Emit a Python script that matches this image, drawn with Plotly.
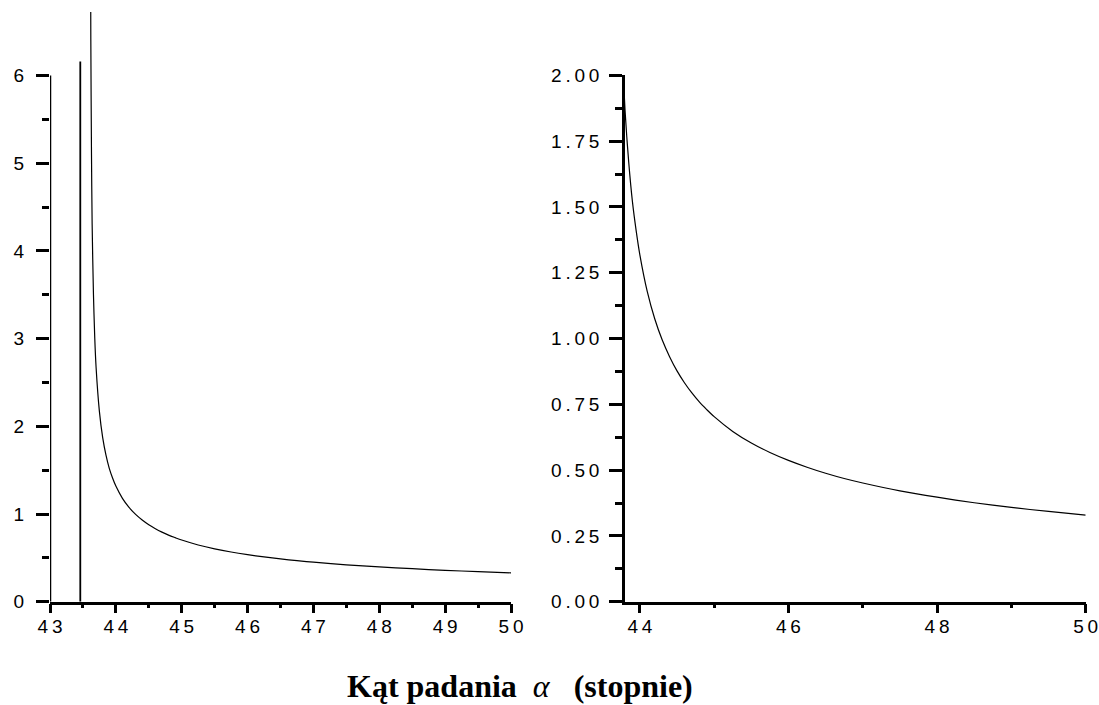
import plotly.graph_objects as go

# Data
angle = [43.615, 43.62, 43.63, 43.64, 43.66, 43.68, 43.70, 43.75, 43.80, 43.85,
         43.90, 43.95, 44.0, 44.1, 44.2, 44.3, 44.4, 44.5, 44.6, 44.7, 44.8, 44.9, 45.0,
         45.25, 45.5, 45.75, 46.0, 46.25, 46.5, 46.75, 47.0, 47.5, 48.0, 48.5, 49.0, 49.5, 50.0]
depth = [7.6, 6.4, 5.1, 4.3, 3.5, 3.0, 2.67, 2.17, 1.87, 1.67,
         1.52, 1.41, 1.318, 1.178, 1.075, 0.995, 0.931, 0.877, 0.832, 0.793, 0.759, 0.730, 0.703,
         0.647, 0.603, 0.567, 0.537, 0.511, 0.488, 0.468, 0.451, 0.421, 0.397, 0.376, 0.358, 0.343, 0.329]
crit_x = [43.46, 43.46]
crit_y = [0, 6.16]

left_xticks = [43, 44, 45, 46, 47, 48, 49, 50]
left_xlabels = ["43", "44", "45", "46", "47", "48", "49", "50"]
left_yticks = [0, 1, 2, 3, 4, 5, 6]
left_ylabels = ["0", "1", "2", "3", "4", "5", "6"]
right_xticks = [44, 46, 48, 50]
right_xlabels = ["44", "46", "48", "50"]
right_yticks = [0, 0.25, 0.5, 0.75, 1.0, 1.25, 1.5, 1.75, 2.0]
right_ylabels = ["0.00", "0.25", "0.50", "0.75", "1.00", "1.25", "1.50", "1.75", "2.00"]

W, H = 1099, 705
TS = "\u2009"


def sp(s):
    return TS.join(list(s))


def px_x(p):
    return p / W


def px_y(p):
    return 1 - p / H


fig = go.Figure()
fig.add_trace(go.Scatter(x=angle, y=depth, mode="lines",
                         line=dict(color="black", width=1.2, shape="spline", smoothing=0.8),
                         xaxis="x", yaxis="y", showlegend=False, hoverinfo="skip"))
fig.add_trace(go.Scatter(x=crit_x, y=crit_y, mode="lines", line=dict(color="black", width=1.8),
                         xaxis="x", yaxis="y", showlegend=False, hoverinfo="skip"))
fig.add_trace(go.Scatter(x=angle, y=depth, mode="lines",
                         line=dict(color="black", width=1.2, shape="spline", smoothing=0.8),
                         xaxis="x2", yaxis="y2", showlegend=False, hoverinfo="skip"))

tickfont = dict(family="Liberation Sans, Arial, sans-serif", size=19, color="black")
AXW = 2.5

common_x = dict(showgrid=False, zeroline=False, showline=True, linecolor="black", linewidth=AXW,
                ticks="outside", ticklen=9, tickwidth=AXW, tickcolor="black", tickfont=tickfont,
                fixedrange=True, automargin=False, ticklabelstandoff=-3)
common_y = dict(showgrid=False, zeroline=False, ticks="outside", ticklen=13, tickwidth=AXW,
                tickcolor="black", tickfont=tickfont, fixedrange=True,
                automargin=False)

fig.update_layout(
    width=W, height=H,
    margin=dict(l=0, r=0, t=0, b=0, autoexpand=False),
    paper_bgcolor="white", plot_bgcolor="white",
    xaxis=dict(domain=[px_x(50), px_x(511)], range=[43, 50], anchor="y",
               tickvals=left_xticks, ticktext=[sp(t) for t in left_xlabels],
               minor=dict(tickvals=[43.5 + i for i in range(7)], ticklen=4, tickwidth=AXW,
                          tickcolor="black", ticks="outside"),
               **common_x),
    yaxis=dict(domain=[px_y(601.7), px_y(12)], range=[0, (601.7 - 12) / 87.7], anchor="x",
               tickvals=left_yticks, ticktext=left_ylabels, showline=False, ticklabelstandoff=8,
               minor=dict(tickvals=[0.5 + i for i in range(6)], ticklen=7, tickwidth=AXW,
                          tickcolor="black", ticks="outside"),
               **common_y),
    xaxis2=dict(domain=[px_x(625), px_x(1085.7)], range=[43.8, 50], anchor="y2",
                tickvals=right_xticks, ticktext=[sp(t) for t in right_xlabels],
                minor=dict(tickvals=[45, 47, 49], ticklen=4, tickwidth=AXW,
                           tickcolor="black", ticks="outside"),
                **common_x),
    yaxis2=dict(domain=[px_y(601.7), px_y(75.3)], range=[0, 2], anchor="x2",
                tickvals=right_yticks, ticktext=[sp(t) for t in right_ylabels],
                showline=True, linecolor="black", linewidth=AXW, ticklabelstandoff=6,
                minor=dict(tickvals=[0.125 + 0.25 * i for i in range(8)], ticklen=7, tickwidth=AXW,
                           tickcolor="black", ticks="outside"),
                **common_y),
    shapes=[dict(type="line", xref="x", yref="y", x0=43, x1=43, y0=0, y1=6,
                 line=dict(color="black", width=AXW))],
    annotations=[dict(
        text="<b>Kąt padania</b>\u00a0\u00a0<i>α</i>\u00a0\u00a0\u00a0<b>(stopnie)</b>",
        xref="paper", yref="paper", x=px_x(520), y=px_y(686), xanchor="center", yanchor="middle",
        showarrow=False,
        font=dict(family="Liberation Serif, Times New Roman, serif", size=32, color="black"))],
)

fig.write_html(
    "out.html",
    config={"displayModeBar": False},
    post_script="document.body.style.margin='0';document.body.style.overflow='hidden';"
                "document.documentElement.style.overflow='hidden';",
)
